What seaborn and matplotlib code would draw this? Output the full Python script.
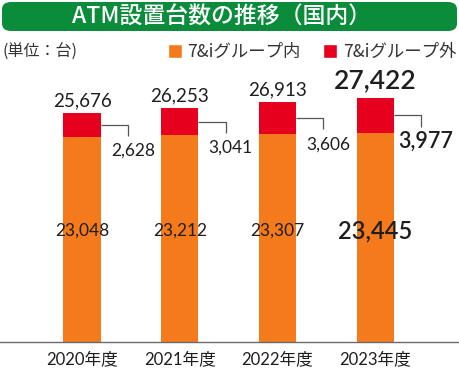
import matplotlib
matplotlib.use('Agg')
import matplotlib.pyplot as plt
from matplotlib.patches import FancyBboxPatch, Patch
import seaborn as sns
import pandas as pd

# data
years = ['2020年度', '2021年度', '2022年度', '2023年度']
inside = [23048, 23212, 23307, 23445]     # 7&iグループ内
outside = [2628, 3041, 3606, 3977]        # 7&iグループ外
totals = [25676, 26253, 26913, 27422]

orange = '#F47A1C'
red = '#E6001E'
green = '#0A8C3B'
ink = '#1e1e1e'
cjk = ['Noto Sans CJK JP', 'DejaVu Sans']

sns.set_theme(style='white')
plt.rcParams['font.family'] = ['Lato', 'Noto Sans CJK JP', 'DejaVu Sans']

df = pd.DataFrame({'year': years, 'inside': inside, 'outside': outside, 'total': totals})

fig = plt.figure(figsize=(4.6, 3.68), dpi=100)
ax = fig.add_axes([0.0, 1 - 341.7 / 368, 0.996, 281.7 / 368])

# stacked bars: total in red, inner part in orange over it
sns.barplot(data=df, x='year', y='total', color=red, width=0.38, linewidth=0,
            saturation=1, ax=ax)
sns.barplot(data=df, x='year', y='inside', color=orange, width=0.38, linewidth=0,
            saturation=1, ax=ax)

ax.set_ylim(0, 31670)
ax.set_xlim(-0.839, 3.848)
ax.set_xlabel('')
ax.set_ylabel('')
ax.set_yticks([])
for s in ['top', 'left', 'right']:
    ax.spines[s].set_visible(False)
ax.spines['bottom'].set_color('#6a6a6a')
ax.spines['bottom'].set_linewidth(1.0)
ax.tick_params(axis='x', length=0, pad=7, labelsize=12, labelcolor=ink)

for i in range(len(years)):
    last = i == len(years) - 1
    w = 'semibold' if last else 'normal'
    mid = inside[i] + outside[i] / 2
    # bracket from the red segment to its label
    ax.plot([i + 0.19, i + 0.47, i + 0.47], [mid, mid, mid - 1250],
            color='#555555', lw=0.9, solid_capstyle='butt')
    ax.text(i + 0.52, mid - 2900, f'{outside[i]:,}', ha='center', va='center',
            fontsize=15.5 if last else 12.5, color=ink, fontweight=w)
    # total above bar
    ax.text(i, totals[i] + (1100 if last else 750), f'{totals[i]:,}',
            ha='center', va='baseline', fontsize=19 if last else 13.5, color=ink,
            fontweight=w)
    # inner value
    ax.text(i, 12500, f'{inside[i]:,}', ha='center', va='center',
            fontsize=17 if last else 12.5, color=ink, fontweight=w)

# title banner
fig.patches.append(FancyBboxPatch((2 / 460, 1 - 31 / 368), 455 / 460, 29 / 368,
                                  boxstyle='round,pad=0,rounding_size=0.02',
                                  transform=fig.transFigure, facecolor=green,
                                  edgecolor='none', zorder=0))
fig.text(222 / 460, 1 - 17 / 368, 'ATM設置台数の推移（国内）', ha='center', va='center',
         fontsize=16.5, color='white', fontweight='medium', family=cjk)

fig.text(3 / 460, 1 - 52 / 368, '(単位：台)', ha='left', va='center', fontsize=11.5,
         color='#333333', family=cjk)

handles = [Patch(facecolor=orange, label='7&iグループ内'),
           Patch(facecolor=red, label='7&iグループ外')]
fig.legend(handles=handles, loc='center right', bbox_to_anchor=(456 / 460, 1 - 52 / 368),
           ncol=2, frameon=False, handlelength=0.82, handleheight=0.82,
           handletextpad=0.3, columnspacing=1.3, borderpad=0, borderaxespad=0,
           prop={'family': cjk, 'size': 12.5}, labelcolor='#333333')

fig.savefig('out.png', dpi=100)
